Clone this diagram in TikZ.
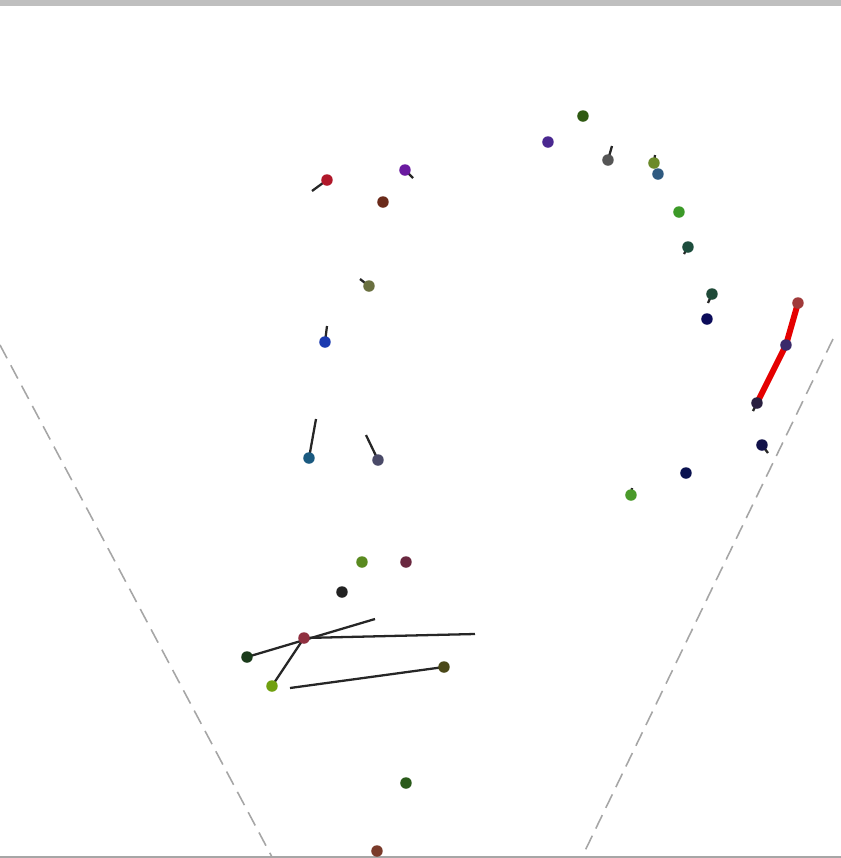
\documentclass[tikz,border=0pt]{standalone}
\usepackage{xcolor}
\usetikzlibrary{calc}
\pgfdeclarelayer{bg}
\pgfsetlayers{bg,main}

\definecolor{cA}{HTML}{2F5A12}
\definecolor{cB}{HTML}{4A2890}
\definecolor{cC}{HTML}{555555}
\definecolor{cD}{HTML}{6B8A2A}
\definecolor{cE}{HTML}{2F5A80}
\definecolor{cF}{HTML}{3C9A28}
\definecolor{cG}{HTML}{1D4D3D}
\definecolor{cH}{HTML}{1F4A38}
\definecolor{cI}{HTML}{0C0C5A}
\definecolor{cJ}{HTML}{A03A3A}
\definecolor{cK}{HTML}{3A2A6A}
\definecolor{cL}{HTML}{2A2040}
\definecolor{cM}{HTML}{12124A}
\definecolor{cN}{HTML}{0A1250}
\definecolor{cO}{HTML}{4A9A2A}
\definecolor{cP}{HTML}{B0182A}
\definecolor{cQ}{HTML}{6A1AA0}
\definecolor{cR}{HTML}{6A2A1A}
\definecolor{cS}{HTML}{6A7040}
\definecolor{cT}{HTML}{1A3AB0}
\definecolor{cU}{HTML}{1A5A80}
\definecolor{cV}{HTML}{4A4A68}
\definecolor{cW}{HTML}{5A8A20}
\definecolor{cX}{HTML}{6A2840}
\definecolor{cY}{HTML}{222222}
\definecolor{cZ}{HTML}{903040}
\definecolor{cAA}{HTML}{1A3A1A}
\definecolor{cAB}{HTML}{70A010}
\definecolor{cAC}{HTML}{4A4818}
\definecolor{cAD}{HTML}{2A5A1A}
\definecolor{cAE}{HTML}{7A3A2A}

\begin{document}
\begin{tikzpicture}[
  x=0.1mm, y=-0.1mm,
  dot/.style={circle,fill,inner sep=0pt,minimum size=1.15mm},
  vec/.style={line width=.65pt,black!85},
  trk/.style={line width=1.7pt,red!90!black},
  fov/.style={gray!70,line width=.45pt,dash pattern=on 1.5mm off .8mm}
]
  \useasboundingbox (0,0) rectangle (841,858);
  \fill[black!25] (0,0) rectangle (841,6);
  \draw[gray!70,line width=.6pt] (0,857) -- (841,857);
  % field of view
  \coordinate (fl0) at (0,345);
  \coordinate (fl1) at (272,857);
  \coordinate (fr0) at (833,339);
  \coordinate (fr1) at (582,857);
  \draw[fov] (fl0) -- (fl1);
  \draw[fov] (fr0) -- (fr1);
  % objects, right arc
  \node[dot,cA] (p1) at (583,116) {};
  \node[dot,cB] (p2) at (548,142) {};
  \node[dot,cC] (p3) at (608,160) {};
  \node[dot,cD] (p4) at (654,163) {};
  \node[dot,cE] (p5) at (658,174) {};
  \node[dot,cF] (p6) at (679,212) {};
  \node[dot,cG] (p7) at (688,247) {};
  \node[dot,cH] (p8) at (712,294) {};
  \node[dot,cI] (p9) at (707,319) {};
  \node[dot,cJ] (p10) at (798,303) {};
  \node[dot,cK] (p11) at (786,345) {};
  \node[dot,cL] (p12) at (757,403) {};
  \node[dot,cM] (p13) at (762,445) {};
  \node[dot,cN] (p14) at (686,473) {};
  \node[dot,cO] (p15) at (631,495) {};
  % objects, left arc
  \node[dot,cP] (p16) at (327,180) {};
  \node[dot,cQ] (p17) at (405,170) {};
  \node[dot,cR] (p18) at (383,202) {};
  \node[dot,cS] (p19) at (369,286) {};
  \node[dot,cT] (p20) at (325,342) {};
  \node[dot,cU] (p21) at (309,458) {};
  \node[dot,cV] (p22) at (378,460) {};
  % objects, bottom group
  \node[dot,cW] (p23) at (362,562) {};
  \node[dot,cX] (p24) at (406,562) {};
  \node[dot,cY] (p25) at (342,592) {};
  \node[dot,cZ] (p26) at (304,638) {};
  \node[dot,cAA] (p27) at (247,657) {};
  \node[dot,cAB] (p28) at (272,686) {};
  \node[dot,cAC] (p29) at (444,667) {};
  \node[dot,cAD] (p30) at (406,783) {};
  \node[dot,cAE] (p31) at (377,851) {};
  % vector ends
  \coordinate (t3) at (612,146);
  \coordinate (t4) at (655,155);
  \coordinate (t7) at (684,254);
  \coordinate (t8) at (708,303);
  \coordinate (t12) at (753,411);
  \coordinate (t13) at (768,453);
  \coordinate (t15) at (632,488);
  \coordinate (t16) at (312,191);
  \coordinate (t17) at (413,178);
  \coordinate (t19) at (360,279);
  \coordinate (t20) at (327,326);
  \coordinate (t21) at (316,419);
  \coordinate (t22) at (366,435);
  \coordinate (t26) at (475,634);
  \coordinate (t27) at (375,619);
  \coordinate (t29) at (290,688);
  \begin{pgfonlayer}{bg}
    \draw[vec] (p3.center) -- (t3);
    \draw[vec] (p4.center) -- (t4);
    \draw[vec] (p7.center) -- (t7);
    \draw[vec] (p8.center) -- (t8);
    \draw[vec] (p12.center) -- (t12);
    \draw[vec] (p13.center) -- (t13);
    \draw[vec] (p15.center) -- (t15);
    \draw[vec] (p16.center) -- (t16);
    \draw[vec] (p17.center) -- (t17);
    \draw[vec] (p19.center) -- (t19);
    \draw[vec] (p20.center) -- (t20);
    \draw[vec] (p21.center) -- (t21);
    \draw[vec] (p22.center) -- (t22);
    \draw[vec] (p26.center) -- (t26);
    \draw[vec] (p27.center) -- (t27);
    \draw[vec] (p28.center) -- (p26.center);
    \draw[vec] (p29.center) -- (t29);
    % track
    \draw[trk,line join=round] (p10.center) -- (p11.center) -- (p12.center);
  \end{pgfonlayer}
\end{tikzpicture}
\end{document}
